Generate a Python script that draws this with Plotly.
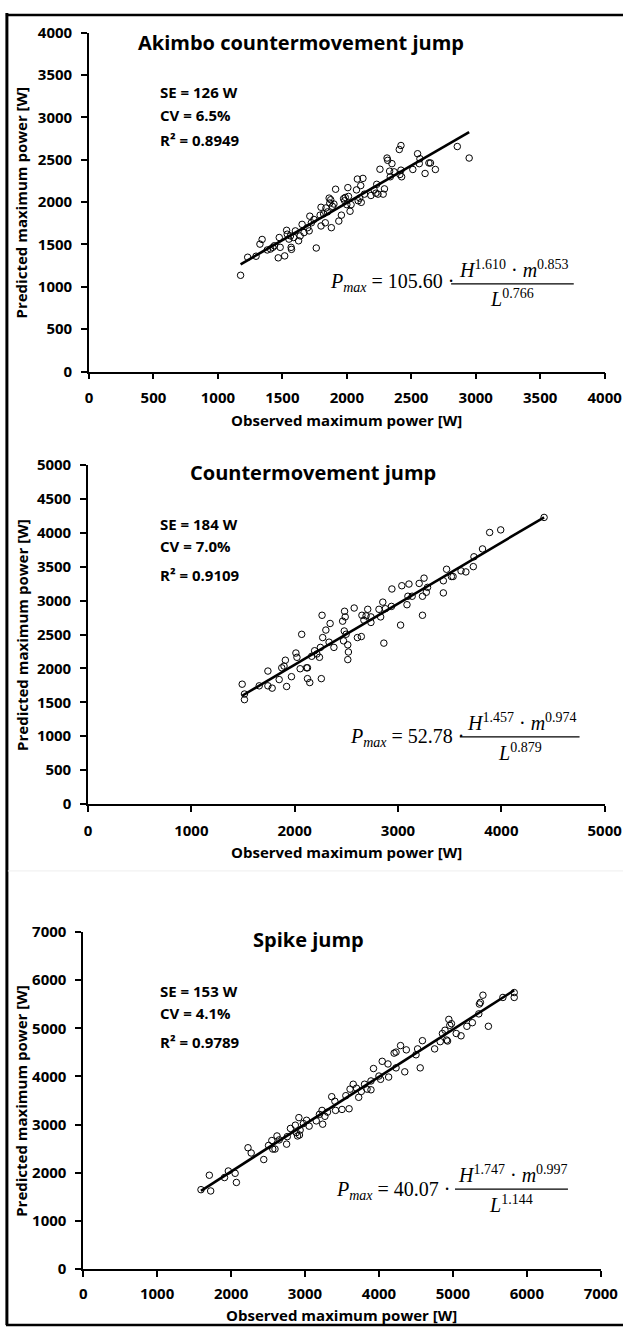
import numpy as np
import plotly.graph_objects as go

W, H = 641, 1336

# ---------------- data ----------------
titles = ["Akimbo countermovement jump", "Countermovement jump", "Spike jump"]
se_labels = ["SE = 126 W", "SE = 184 W", "SE = 153 W"]
cv_labels = ["CV = 6.5%", "CV = 7.0%", "CV = 4.1%"]
r2_labels = ["R² = 0.8949", "R² = 0.9109", "R² = 0.9789"]
coefs = ["105.60", "52.78", "40.07"]
h_exp = ["1.610", "1.457", "1.747"]
m_exp = ["0.853", "0.974", "0.997"]
l_exp = ["0.766", "0.879", "1.144"]
axis_max = [4000, 5000, 7000]
x_tick_step = [500, 1000, 1000]
y_tick_step = [500, 500, 1000]
x_title = "Observed maximum power [W]"
y_title = "Predicted maximum power [W]"

akimbo_obs = [1176, 1231, 1296, 1326, 1343, 1383, 1408, 1426, 1438, 1468, 1476, 1483, 1518, 1533,
              1538, 1551, 1563, 1568, 1571, 1588, 1601, 1626, 1638, 1653, 1668, 1696, 1708, 1713,
              1725, 1745, 1763, 1793, 1800, 1800, 1820, 1833, 1838, 1850, 1863, 1868, 1875, 1880,
              1888, 1900, 1913, 1938, 1958, 1975, 1983, 1988, 2000, 2008, 2013, 2025, 2033, 2075,
              2082, 2088, 2100, 2108, 2112, 2125, 2137, 2187, 2212, 2225, 2232, 2242, 2257, 2282,
              2292, 2312, 2317, 2332, 2337, 2350, 2367, 2407, 2412, 2420, 2420, 2425, 2512, 2549,
              2562, 2567, 2607, 2637, 2649, 2687, 2857, 2949]
akimbo_pred = [1136, 1349, 1361, 1504, 1559, 1435, 1446, 1466, 1485, 1342, 1582, 1466, 1365, 1667,
               1621, 1563, 1601, 1466, 1442, 1582, 1660, 1543, 1601, 1737, 1640, 1698, 1660, 1834,
               1756, 1795, 1458, 1846, 1939, 1718, 1861, 1756, 1931, 1884, 2047, 1989, 2028, 1698,
               1950, 1977, 2152, 1776, 1846, 2040, 2016, 2055, 1970, 2171, 2067, 1892, 1970, 2144,
               2272, 2016, 2047, 2195, 1997, 2280, 2094, 2078, 2144, 2105, 2210, 2094, 2388, 2094,
               2156, 2520, 2493, 2365, 2299, 2454, 2357, 2621, 2326, 2668, 2377, 2299, 2385, 2571,
               2454, 2512, 2338, 2462, 2462, 2385, 2656, 2520]

cmj_obs = [1492, 1514, 1514, 1657, 1741, 1741, 1782, 1850, 1875, 1897, 1910, 1922, 1969, 2012,
           2022, 2053, 2068, 2115, 2124, 2124, 2146, 2165, 2193, 2215, 2240, 2249, 2258, 2265,
           2271, 2302, 2333, 2343, 2380, 2464, 2473, 2480, 2483, 2489, 2498, 2514, 2520, 2514,
           2576, 2607, 2645, 2651, 2670, 2691, 2707, 2738, 2738, 2816, 2832, 2853, 2863, 2878,
           2937, 2941, 3025, 3037, 3087, 3096, 3106, 3137, 3205, 3237, 3237, 3252, 3274, 3286,
           3439, 3439, 3470, 3517, 3533, 3610, 3657, 3729, 3735, 3818, 3887, 3994, 4414]
cmj_pred = [1767, 1622, 1539, 1743, 1961, 1743, 1709, 1835, 2009, 2034, 2121, 1733, 1878, 2227,
            2164, 1995, 2503, 2009, 2009, 1849, 1791, 2179, 2261, 2213, 2164, 2310, 1849, 2784,
            2455, 2566, 2387, 2663, 2310, 2697, 2407, 2552, 2843, 2760, 2504, 2348, 2242, 2130,
            2891, 2455, 2470, 2784, 2712, 2775, 2872, 2678, 2760, 2872, 2760, 2978, 2373, 2881,
            2915, 3172, 2639, 3220, 2940, 3065, 3245, 3065, 3254, 2784, 3065, 3332, 3124, 3196,
            3293, 3114, 3463, 3356, 3356, 3439, 3424, 3502, 3647, 3763, 4006, 4044, 4228]

spike_obs = [1593, 1706, 1724, 1911, 1963, 2055, 2072, 2229, 2272, 2442, 2507, 2551, 2564, 2594,
             2621, 2651, 2751, 2760, 2803, 2869, 2882, 2899, 2917, 2925, 2934, 2978, 3021, 3056,
             3152, 3195, 3230, 3239, 3269, 3304, 3361, 3404, 3413, 3500, 3552, 3596, 3609, 3652,
             3696, 3726, 3761, 3805, 3839, 3892, 3892, 3926, 4000, 4022, 4044, 4131, 4122, 4205,
             4231, 4231, 4292, 4349, 4370, 4501, 4523, 4558, 4588, 4753, 4828, 4858, 4893, 4915,
             4928, 4945, 4958, 4980, 5045, 5110, 5189, 5263, 5350, 5358, 5372, 5406, 5480, 5676,
             5829, 5829]
spike_pred = [1646, 1946, 1619, 1898, 2034, 1986, 1796, 2517, 2408, 2272, 2565, 2667, 2490, 2490,
              2762, 2680, 2592, 2748, 2918, 2986, 2830, 2762, 3143, 2782, 2884, 3020, 3088, 2966,
              3075, 3211, 3293, 3007, 3170, 3258, 3578, 3483, 3293, 3313, 3599, 3327, 3735, 3837,
              3755, 3565, 3687, 3837, 3735, 3905, 3721, 4163, 4007, 3939, 4313, 3986, 4258, 4483,
              4504, 4177, 4640, 4095, 4551, 4449, 4571, 4177, 4742, 4571, 4721, 4891, 4959, 4755,
              4735, 5184, 5061, 5095, 4891, 4843, 5041, 5116, 5299, 5504, 5537, 5687, 5041, 5640,
              5742, 5640]

observed = [akimbo_obs, cmj_obs, spike_obs]
predicted = [akimbo_pred, cmj_pred, spike_pred]

# ---------------- layout (pixel positions) ----------------
FONT = "Open Sans"
SERIF = "Liberation Serif"
boxes = [(88, 622, 22, 366), (87, 622, 461, 805), (82, 618, 935, 1277)]  # left, right, top, bottom
title_pos = [(308, 32), (320, 469), (315, 943)]
stats_x = 159
stats_y = [(82, 106, 131), (521, 543, 573), (995, 1017, 1047)]
xtitle_y = [415, 854, 1324]
x_standoff = [6, 6, 4]
# P left, main y, bar x0, bar x1, bar y, numerator y, denominator y
eq_pos = [(336, 276, 463, 590, 277, 262, 291),
          (356, 738, 472, 596, 737, 722, 752),
          (342, 1197, 467, 584, 1196, 1181, 1211)]


def fx(px):
    return px / W


def fy(py):
    return 1 - py / H


fig = go.Figure()
annotations = []
shapes = []

for i in range(3):
    xa = "x" if i == 0 else f"x{i+1}"
    ya = "y" if i == 0 else f"y{i+1}"
    obs = np.array(observed[i], dtype=float)
    pred = np.array(predicted[i], dtype=float)

    fig.add_trace(go.Scatter(
        x=obs, y=pred, mode="markers", xaxis=xa, yaxis=ya,
        marker=dict(symbol="circle-open", size=6.5, color="black", line=dict(width=1)),
        showlegend=False, hoverinfo="skip"))

    slope, icpt = np.polyfit(obs, pred, 1)
    lx = np.array([obs.min(), obs.max()])
    fig.add_trace(go.Scatter(
        x=lx, y=slope * lx + icpt, mode="lines", xaxis=xa, yaxis=ya,
        line=dict(color="black", width=2.6), showlegend=False, hoverinfo="skip"))

    l, r, t, b = boxes[i]
    axcommon = dict(showgrid=False, zeroline=False, showline=True, linecolor="black", linewidth=1.6,
                    ticks="outside", ticklen=6, tickwidth=1.6, tickcolor="black",
                    tickfont=dict(family=FONT, size=15, color="black", weight="bold"),
                    fixedrange=True, tick0=0, range=[0, axis_max[i]])
    fig.layout[f"xaxis{'' if i == 0 else i+1}"] = dict(
        domain=[fx(l), fx(r)], anchor=ya, dtick=x_tick_step[i], ticklabelstandoff=x_standoff[i],
        **axcommon)
    fig.layout[f"yaxis{'' if i == 0 else i+1}"] = dict(
        domain=[fy(b), fy(t)], anchor=xa, dtick=y_tick_step[i], ticklabelstandoff=6, **axcommon)

    # title
    annotations.append(dict(text=titles[i], x=fx(title_pos[i][0]), y=fy(title_pos[i][1]),
                            xref="paper", yref="paper", showarrow=False, xanchor="center",
                            yanchor="middle", font=dict(family=FONT, size=20, color="black", weight="bold")))
    # stats
    for txt, yy in zip([se_labels[i], cv_labels[i], r2_labels[i]], stats_y[i]):
        annotations.append(dict(text=txt, x=fx(stats_x), y=fy(yy), xref="paper", yref="paper",
                                showarrow=False, xanchor="left", yanchor="middle",
                                font=dict(family=FONT, size=15, color="black", weight="bold")))
    # axis titles
    annotations.append(dict(text=x_title, x=fx((l + r) / 2), y=fy(xtitle_y[i]), xref="paper", yref="paper",
                            showarrow=False, xanchor="center", yanchor="middle",
                            font=dict(family=FONT, size=15, color="black", weight="bold")))
    annotations.append(dict(text=y_title, x=fx(18), y=fy((t + b) / 2), xref="paper", yref="paper",
                            showarrow=False, xanchor="center", yanchor="middle", textangle=-90,
                            font=dict(family=FONT, size=15, color="black", weight="bold")))
    # equation
    px0, my, bx0, bx1, by, ny, dy = eq_pos[i]
    annotations.append(dict(text=f"<i>P</i><sub><i>max</i></sub> = {coefs[i]} ·",
                            x=fx(px0), y=fy(my), xref="paper", yref="paper", showarrow=False,
                            xanchor="left", yanchor="middle",
                            font=dict(family=SERIF, size=20, color="black")))
    annotations.append(dict(text=f"<i>H</i><sup>{h_exp[i]}</sup> · <i>m</i><sup>{m_exp[i]}</sup>",
                            x=fx((bx0 + bx1) / 2 + 2), y=fy(ny), xref="paper", yref="paper", showarrow=False,
                            xanchor="center", yanchor="middle",
                            font=dict(family=SERIF, size=20, color="black")))
    annotations.append(dict(text=f"<i>L</i><sup>{l_exp[i]}</sup>",
                            x=fx((bx0 + bx1) / 2), y=fy(dy), xref="paper", yref="paper", showarrow=False,
                            xanchor="center", yanchor="middle",
                            font=dict(family=SERIF, size=20, color="black")))
    shapes.append(dict(type="line", xref="paper", yref="paper", x0=fx(bx0), x1=fx(bx1),
                       y0=fy(by), y1=fy(by), line=dict(color="black", width=1.3)))

# frame and faint separator
shapes.append(dict(type="line", xref="paper", yref="paper", x0=fx(3), x1=fx(3), y0=fy(2), y1=fy(1334),
                   line=dict(color="black", width=3)))
shapes.append(dict(type="line", xref="paper", yref="paper", x0=fx(2), x1=1, y0=fy(4), y1=fy(4),
                   line=dict(color="black", width=2.5)))
shapes.append(dict(type="line", xref="paper", yref="paper", x0=fx(2), x1=1, y0=fy(1334), y1=fy(1334),
                   line=dict(color="black", width=2.5)))
shapes.append(dict(type="line", xref="paper", yref="paper", x0=fx(4), x1=1, y0=fy(873), y1=fy(873),
                   line=dict(color="#eeeeee", width=1)))

fig.update_layout(width=W, height=H, margin=dict(l=0, r=0, t=0, b=0),
                  paper_bgcolor="white", plot_bgcolor="white",
                  annotations=annotations, shapes=shapes, showlegend=False)

fig.write_html("out.html", config={"displayModeBar": False},
               post_script="document.body.style.margin='0';document.body.style.padding='0';"
                           "document.documentElement.style.overflow='hidden';")
